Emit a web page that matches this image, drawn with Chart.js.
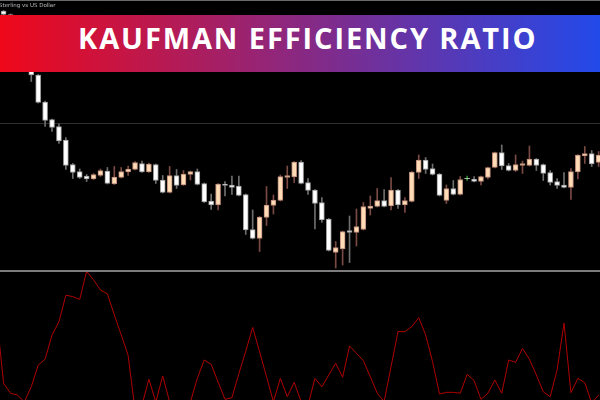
<!DOCTYPE html>
<html>
<head>
<meta charset="utf-8">
<script src="https://cdn.jsdelivr.net/npm/chart.js@4.4.1/dist/chart.umd.min.js"></script>
<style>
  body { margin: 0; background: #000; }
  #wrap { position: relative; width: 600px; height: 400px; overflow: hidden; background: #000; }
  canvas { position: absolute; left: 0; }
  #price { top: 0; }
  #er { top: 270px; }
  #topline { position: absolute; left: 0; top: 0; width: 600px; height: 1px; background: #6a6a6a; }
  #sep { position: absolute; left: 0; top: 270px; width: 600px; height: 2px; background: #7c7c7c; }
  #symbol { position: absolute; left: -1px; top: 2px; font: 5.5px "DejaVu Sans", sans-serif; color: #bbb; white-space: nowrap; }
  #banner { position: absolute; left: 0; top: 15px; width: 600px; height: 57px;
            background: linear-gradient(90deg, #f0081a 0%, #2249ea 100%); }
  #banner span { position: absolute; left: 78px; top: 8px; font: 700 29px/29px "Open Sans", sans-serif;
                 letter-spacing: 1.9px; color: #fff; white-space: nowrap; }
</style>
</head>
<body>
<div id="wrap">
  <canvas id="price" width="600" height="270"></canvas>
  <canvas id="er" width="600" height="130"></canvas>
  <div id="topline"></div>
  <div id="sep"></div>
  <div id="symbol">Sterling vs US Dollar</div>
  <div id="banner"><span>KAUFMAN EFFICIENCY RATIO</span></div>
</div>
<script>
// GBPUSD candles, oldest first
const open = [
  1.29890, 1.29855, 1.29700, 1.29530, 1.29380, 1.29250, 1.28980, 1.28805, 1.28735, 1.28600,
  1.28355, 1.28285, 1.28240, 1.28210, 1.28245, 1.28290, 1.28160, 1.28225, 1.28280, 1.28305,
  1.28365, 1.28280, 1.28355, 1.28200, 1.28075, 1.28245, 1.28150, 1.28255, 1.28285, 1.28165,
  1.27990, 1.27950, 1.28160, 1.28150, 1.28140, 1.28055, 1.27705, 1.27615, 1.27825, 1.27945,
  1.27995, 1.28225, 1.28230, 1.28380, 1.28175, 1.28100, 1.27975, 1.27810, 1.27475, 1.27510,
  1.27695, 1.27675, 1.27705, 1.27915, 1.27935, 1.27995, 1.27940, 1.28100, 1.27950, 1.27985,
  1.28275, 1.28400, 1.28315, 1.28260, 1.27995, 1.28115, 1.28055, 1.28215, 1.28210, 1.28185,
  1.28225, 1.28325, 1.28475, 1.28345, 1.28295, 1.28345, 1.28345, 1.28410, 1.28355, 1.28275,
  1.28185, 1.28150, 1.28125, 1.28280, 1.28440, 1.28465, 1.28375
];
const high = [
  1.29895, 1.29860, 1.29710, 1.29540, 1.29390, 1.29255, 1.28990, 1.28810, 1.28760, 1.28625,
  1.28365, 1.28310, 1.28255, 1.28265, 1.28310, 1.28325, 1.28335, 1.28325, 1.28340, 1.28385,
  1.28390, 1.28370, 1.28360, 1.28245, 1.28335, 1.28305, 1.28295, 1.28290, 1.28310, 1.28170,
  1.28060, 1.28165, 1.28185, 1.28240, 1.28240, 1.28060, 1.27900, 1.27835, 1.28135, 1.28050,
  1.28250, 1.28340, 1.28385, 1.28395, 1.28215, 1.28105, 1.28025, 1.27815, 1.27585, 1.27690,
  1.27840, 1.27910, 1.27975, 1.28040, 1.28115, 1.28105, 1.28225, 1.28105, 1.28025, 1.28285,
  1.28450, 1.28425, 1.28360, 1.28265, 1.28150, 1.28195, 1.28235, 1.28240, 1.28235, 1.28240,
  1.28330, 1.28480, 1.28550, 1.28365, 1.28450, 1.28390, 1.28540, 1.28415, 1.28360, 1.28295,
  1.28215, 1.28275, 1.28315, 1.28455, 1.28535, 1.28495, 1.28485
];
const low = [
  1.29850, 1.29690, 1.29520, 1.29360, 1.29185, 1.28970, 1.28735, 1.28685, 1.28565, 1.28305,
  1.28215, 1.28215, 1.28185, 1.28205, 1.28235, 1.28160, 1.28155, 1.28220, 1.28245, 1.28300,
  1.28275, 1.28275, 1.28165, 1.28070, 1.28070, 1.28115, 1.28145, 1.28200, 1.28150, 1.27975,
  1.27905, 1.27900, 1.28040, 1.28055, 1.28040, 1.27655, 1.27610, 1.27485, 1.27745, 1.27860,
  1.27990, 1.28115, 1.28175, 1.28160, 1.28055, 1.27710, 1.27775, 1.27490, 1.27320, 1.27350,
  1.27375, 1.27540, 1.27700, 1.27850, 1.27930, 1.27930, 1.27900, 1.27915, 1.27875, 1.27980,
  1.28215, 1.28265, 1.28250, 1.28040, 1.27965, 1.28050, 1.28050, 1.28195, 1.28180, 1.28150,
  1.28210, 1.28320, 1.28305, 1.28290, 1.28285, 1.28265, 1.28340, 1.28295, 1.28195, 1.28150,
  1.28115, 1.28120, 1.28005, 1.28210, 1.28365, 1.28335, 1.28335
];
const close = [
  1.29855, 1.29700, 1.29530, 1.29380, 1.29250, 1.28975, 1.28795, 1.28725, 1.28590, 1.28345,
  1.28275, 1.28225, 1.28210, 1.28255, 1.28295, 1.28165, 1.28230, 1.28285, 1.28310, 1.28375,
  1.28280, 1.28360, 1.28195, 1.28075, 1.28245, 1.28145, 1.28260, 1.28285, 1.28155, 1.27980,
  1.27950, 1.28160, 1.28145, 1.28125, 1.28045, 1.27700, 1.27615, 1.27830, 1.27950, 1.28000,
  1.28235, 1.28245, 1.28380, 1.28165, 1.28095, 1.27965, 1.27800, 1.27495, 1.27525, 1.27685,
  1.27675, 1.27735, 1.27935, 1.27940, 1.27995, 1.27935, 1.28100, 1.27950, 1.27995, 1.28280,
  1.28400, 1.28305, 1.28255, 1.28045, 1.28115, 1.28055, 1.28205, 1.28215, 1.28185, 1.28235,
  1.28325, 1.28475, 1.28340, 1.28295, 1.28355, 1.28365, 1.28410, 1.28345, 1.28265, 1.28175,
  1.28145, 1.28125, 1.28285, 1.28450, 1.28465, 1.28360, 1.28450
];

// Kaufman efficiency ratio; first value belongs to the bar just left of the window
const er = [
  0.67,
  0.19, 0.12, 0.107, 0.057, 0.166, 0.32, 0.364, 0.536, 0.63, 0.82,
  0.81, 0.79, 0.99, 0.93, 0.857, 0.83, 0.68, 0.536, 0.39, 0.0,
  0.036, 0.22, 0.057, 0.243, 0.057, 0.0, 0.0, 0.057, 0.226, 0.357,
  0.326, 0.2, 0.076, 0.088, 0.26, 0.42, 0.59, 0.416, 0.238, 0.06,
  0.226, 0.095, 0.198, 0.06, 0.036, 0.226, 0.166, 0.25, 0.334, 0.234,
  0.457, 0.405, 0.352, 0.238, 0.12, 0.06, 0.31, 0.56, 0.56, 0.595,
  0.66, 0.536, 0.345, 0.114, 0.126, 0.126, 0.12, 0.255, 0.21, 0.076,
  0.12, 0.214, 0.12, 0.357, 0.34, 0.44, 0.362, 0.25, 0.13, 0.095,
  0.286, 0.62, 0.124, 0.226, 0.195, 0.05, 0.107
];

// price level line
const levels = [1.2876];

const BULL = '#ffdcb6', BULL_EDGE = '#b98878', BULL_WICK = '#7a4a44';
const BEAR = '#ffffff', BEAR_EDGE = '#9a9a9a', BEAR_WICK = '#6e6e6e';
const DOJI = '#2a8a2a';

function kind(i) {
  if (close[i] > open[i]) return 'bull';
  if (close[i] < open[i]) return 'bear';
  return 'doji';
}

const xScale = { type: 'linear', min: -0.52, max: 86.2, offset: false, display: false };

new Chart(document.getElementById('price'), {
  type: 'bar',
  data: {
    datasets: [
      {
        // wicks
        data: open.map((_, i) => ({ x: i, y: [low[i], high[i]] })),
        backgroundColor: ctx => {
          const k = kind(ctx.dataIndex);
          return k === 'bull' ? BULL_WICK : k === 'bear' ? BEAR_WICK : DOJI;
        },
        barThickness: 1,
        grouped: false,
        order: 2
      },
      {
        // bodies
        data: open.map((_, i) => ({ x: i, y: [Math.min(open[i], close[i]), Math.max(open[i], close[i])] })),
        backgroundColor: ctx => kind(ctx.dataIndex) === 'bull' ? BULL : BEAR,
        borderColor: ctx => kind(ctx.dataIndex) === 'bull' ? BULL_EDGE : BEAR_EDGE,
        borderWidth: ctx => kind(ctx.dataIndex) === 'doji' ? 0 : 1,
        borderSkipped: false,
        barThickness: 5,
        grouped: false,
        order: 1
      }
    ]
  },
  options: {
    responsive: false,
    animation: false,
    layout: { padding: 0 },
    plugins: { legend: { display: false }, tooltip: { enabled: false } },
    scales: {
      x: xScale,
      y: {
        min: 1.2730,
        max: 1.3000,
        ticks: { display: false },
        border: { display: false },
        grid: { color: '#2e2e2e', lineWidth: 1, drawTicks: false, tickLength: 0 },
        afterBuildTicks: s => { s.ticks = levels.map(v => ({ value: v })); }
      }
    }
  }
});

new Chart(document.getElementById('er'), {
  type: 'line',
  data: {
    datasets: [{
      data: er.map((v, i) => ({ x: i - 1, y: v })),
      borderColor: '#b00000',
      borderWidth: 1,
      pointRadius: 0,
      tension: 0
    }]
  },
  options: {
    responsive: false,
    animation: false,
    layout: { padding: 0 },
    plugins: { legend: { display: false }, tooltip: { enabled: false } },
    scales: {
      x: xScale,
      y: { min: 0.0714, max: 1.0, display: false }
    }
  }
});
</script>
</body>
</html>
